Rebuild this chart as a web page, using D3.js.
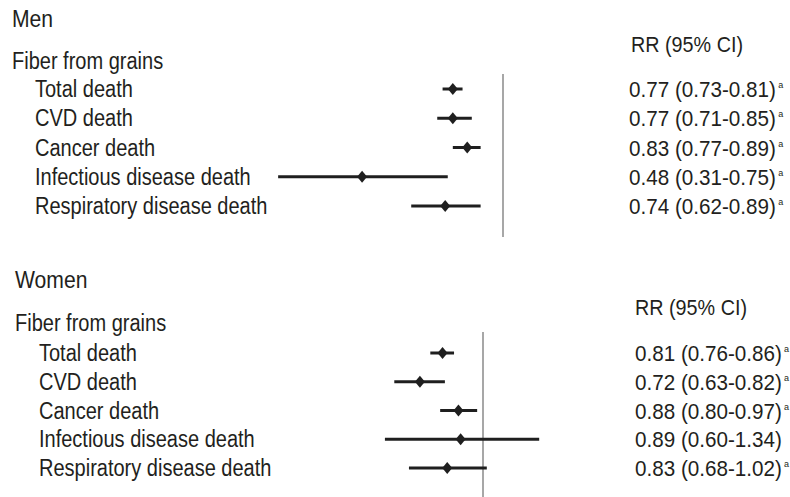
<!DOCTYPE html>
<html>
<head>
<meta charset="utf-8">
<script src="https://cdn.jsdelivr.net/npm/d3@7"></script>
<style>
  html, body { margin: 0; padding: 0; background: #fff; }
  svg { display: block; }
  text { font-family: "Liberation Sans", Arial, Helvetica, sans-serif; fill: #231f20; }
</style>
</head>
<body>
<svg id="chart" width="790" height="497"></svg>
<script>
// Causes of death (rows of each panel)
const causes = [
  "Total death",
  "CVD death",
  "Cancer death",
  "Infectious disease death",
  "Respiratory disease death"
];

// Relative risks and 95% confidence limits, men
const menRR = [0.77, 0.77, 0.83, 0.48, 0.74];
const menLo = [0.73, 0.71, 0.77, 0.31, 0.62];
const menHi = [0.81, 0.85, 0.89, 0.75, 0.89];
const menSig = [true, true, true, true, true];

// Relative risks and 95% confidence limits, women
const womenRR = [0.81, 0.72, 0.88, 0.89, 0.83];
const womenLo = [0.76, 0.63, 0.80, 0.60, 0.68];
const womenHi = [0.86, 0.82, 0.97, 1.34, 1.02];
const womenSig = [true, true, true, false, true];

const panelTitles = ["Men", "Women"];
const groupLabel = "Fiber from grains";
const valueHeader = "RR (95% CI)";

const svg = d3.select("#chart");
const W = +svg.attr("width");
const fmt = d3.format(".2f");
const ink = "#1f1f1f";

// Text helper: condensed type is emulated by a horizontal squeeze
function label(g, str, x, y, size, sx) {
  const t = g.append("text")
    .attr("transform", `translate(${x},${y}) scale(${sx},1)`)
    .attr("font-size", size)
    .text(str);
  t.endX = x + t.node().getComputedTextLength() * sx;
  return t;
}

const panels = [
  {
    title: panelTitles[0], rr: menRR, lo: menLo, hi: menHi, sig: menSig,
    titleX: 12, titleY: 27, groupY: 69, labelX: 35,
    rowTop: 89, rowStep: 29.25,
    refX: 503, refTop: 74, refBottom: 237,
    headerX: 631, headerY: 52, valueX: 629
  },
  {
    title: panelTitles[1], rr: womenRR, lo: womenLo, hi: womenHi, sig: womenSig,
    titleX: 15, titleY: 288, groupY: 331, labelX: 39,
    rowTop: 353, rowStep: 28.75,
    refX: 483, refTop: 332, refBottom: 497,
    headerX: 635, headerY: 315, valueX: 635
  }
];

// pixels per natural-log unit of relative risk
const pxPerLog = 192;
const domain = [0.25, 1.6];

panels.forEach(p => {
  const g = svg.append("g");

  const x = d3.scaleLog()
    .domain(domain)
    .range(domain.map(d => p.refX + pxPerLog * Math.log(d)));

  const y = d3.scalePoint()
    .domain(causes)
    .range([p.rowTop, p.rowTop + p.rowStep * (causes.length - 1)]);

  // titles and row labels
  label(g, p.title, p.titleX, p.titleY, 23.5, 0.9);
  label(g, groupLabel, p.titleX, p.groupY, 23, 0.87);
  causes.forEach(c => label(g, c, p.labelX, y(c) + 8, 23, 0.87));

  // line of no effect (RR = 1)
  g.append("line")
    .attr("x1", x(1)).attr("x2", x(1))
    .attr("y1", p.refTop).attr("y2", p.refBottom)
    .attr("stroke", "#8a8a8a")
    .attr("stroke-width", 1.5);

  // confidence interval bars
  g.selectAll("line.ci")
    .data(causes)
    .join("line")
    .attr("class", "ci")
    .attr("x1", (c, i) => x(p.lo[i]))
    .attr("x2", (c, i) => x(p.hi[i]))
    .attr("y1", c => y(c))
    .attr("y2", c => y(c))
    .attr("stroke", ink)
    .attr("stroke-width", 3);

  // point estimates as diamonds
  g.selectAll("path.est")
    .data(causes)
    .join("path")
    .attr("class", "est")
    .attr("d", (c, i) => {
      const cx = x(p.rr[i]), cy = y(c);
      return `M${cx},${cy - 6}L${cx + 5},${cy}L${cx},${cy + 6}L${cx - 5},${cy}Z`;
    })
    .attr("fill", ink);

  // value column with significance footnote marks
  label(g, valueHeader, p.headerX, p.headerY, 21.5, 0.92);
  causes.forEach((c, i) => {
    const str = `${fmt(p.rr[i])} (${fmt(p.lo[i])}-${fmt(p.hi[i])})`;
    const t = label(g, str, p.valueX, y(c) + 8, 21.5, 0.96);
    if (p.sig[i]) {
      label(g, "a", Math.min(t.endX + 2.5, W - 6), y(c) - 1, 9, 1);
    }
  });
});
</script>
</body>
</html>
